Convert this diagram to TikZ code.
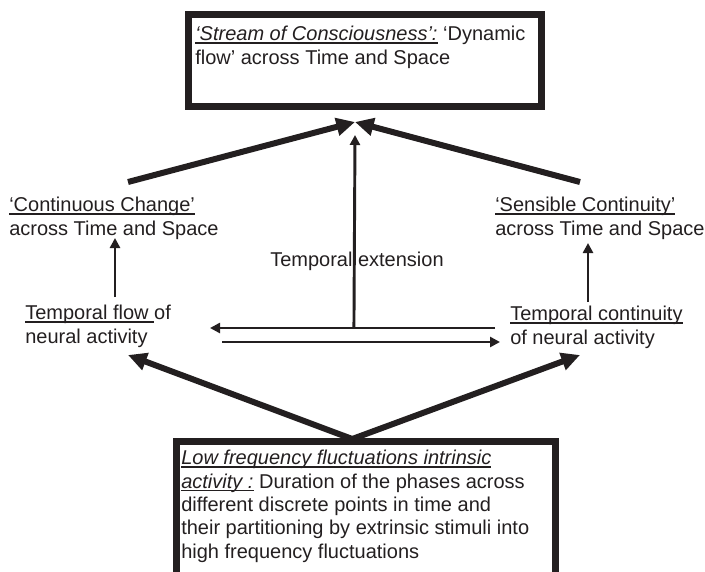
\documentclass[tikz,border=0pt]{standalone}
\usepackage{fontspec}
\setmainfont{Liberation Sans}
\usepackage{xcolor}
\usepackage{tikz}
\usetikzlibrary{positioning, arrows.meta, calc}
\definecolor{ink}{RGB}{35,31,32}
\newsavebox{\ulbox}
\newcommand{\ulin}[1]{\sbox{\ulbox}{#1}\rlap{\rule[-2.4pt]{\wd\ulbox}{1.3pt}}\usebox{\ulbox}}
\tikzset{
  frame/.style  ={draw=ink, line width=5.25pt, inner sep=0pt, outer sep=0pt},
  txt/.style    ={align=left, inner sep=0pt, anchor=north west, text=ink},
  bigflow/.style={-{Triangle[length=14pt, width=13pt]}, line width=4.5pt, draw=ink},
  flow/.style   ={-{Triangle[length=7.5pt, width=7.5pt]}, line width=2.2pt, draw=ink},
}

\begin{document}
\begin{tikzpicture}[x=0.75pt, y=-0.75pt, every node/.style={font=\fontsize{15}{17.5}\selectfont}]
  \useasboundingbox (0,0) rectangle (705,571);
  \clip (0,0) rectangle (705,571);
  % boxes
  \node[frame, minimum width=264.75pt, minimum height=69pt] (stream) at (365,60.5) {};
  \node[frame, minimum width=283.9pt, minimum height=117.75pt] (lowfreq) at (366,520) {};
  \node[txt] (streamtxt) at (195,26)
     {\ulin{\textit{‘Stream of Consciousness’:}} ‘Dynamic\\ flow’ across Time and Space};
  \node[txt] (lowtxt) at (181,450)
     {\ulin{\textit{Low frequency fluctuations intrinsic}}\\
      \ulin{\textit{activity :}} Duration of the phases across\\
      different discrete points in time and\\
      their partitioning by extrinsic stimuli into\\
      high frequency fluctuations};
  % labels
  \node[txt] (change)   at (9,197)   {\ulin{‘Continuous Change’}\\ across Time and Space};
  \node[txt] (sensible) at (495,197) {\ulin{‘Sensible Continuity’}\\ across Time and Space};
  \node[txt] (flow)     at (25,305)  {\ulin{Temporal flow }of\\ neural activity};
  \node[txt] (contin)   at (510,306) {\ulin{Temporal continuity}\\ of neural activity};
  \node[txt, anchor=base west] (ext) at (270,266) {Temporal extension};
  \coordinate (apex) at ($(stream.south west)+(166.5,15.5)$);
  \coordinate (fork) at ($(lowfreq.north west)+(175.5,-2.5)$);
  % connectors
  \draw[bigflow] ($(change.north west)+(119,-15)$) -- (apex);
  \draw[bigflow] ($(sensible.north west)+(85,-15)$) -- (apex);
  \draw[bigflow] (fork) -- ($(flow.north west)+(103,50)$);
  \draw[bigflow] (fork) -- ($(contin.north west)+(70,49)$);
  \draw[flow] ($(flow.north west)+(90,-8)$) -- ($(change.north west)+(106,41)$);
  \draw[flow] ($(contin.north west)+(78,-4)$) -- ($(sensible.north west)+(93,46)$);
  \draw[flow] ($(contin.north west)+(-15,22)$) -- coordinate[pos=0.495] (join) ($(flow.north west)+(185,23)$);
  \draw[flow] ($(flow.north west)+(197,37)$) -- ($(contin.north west)+(-10,36)$);
  \draw[flow] (join) -- ($(apex)+(0,13)$);
\end{tikzpicture}
\end{document}
